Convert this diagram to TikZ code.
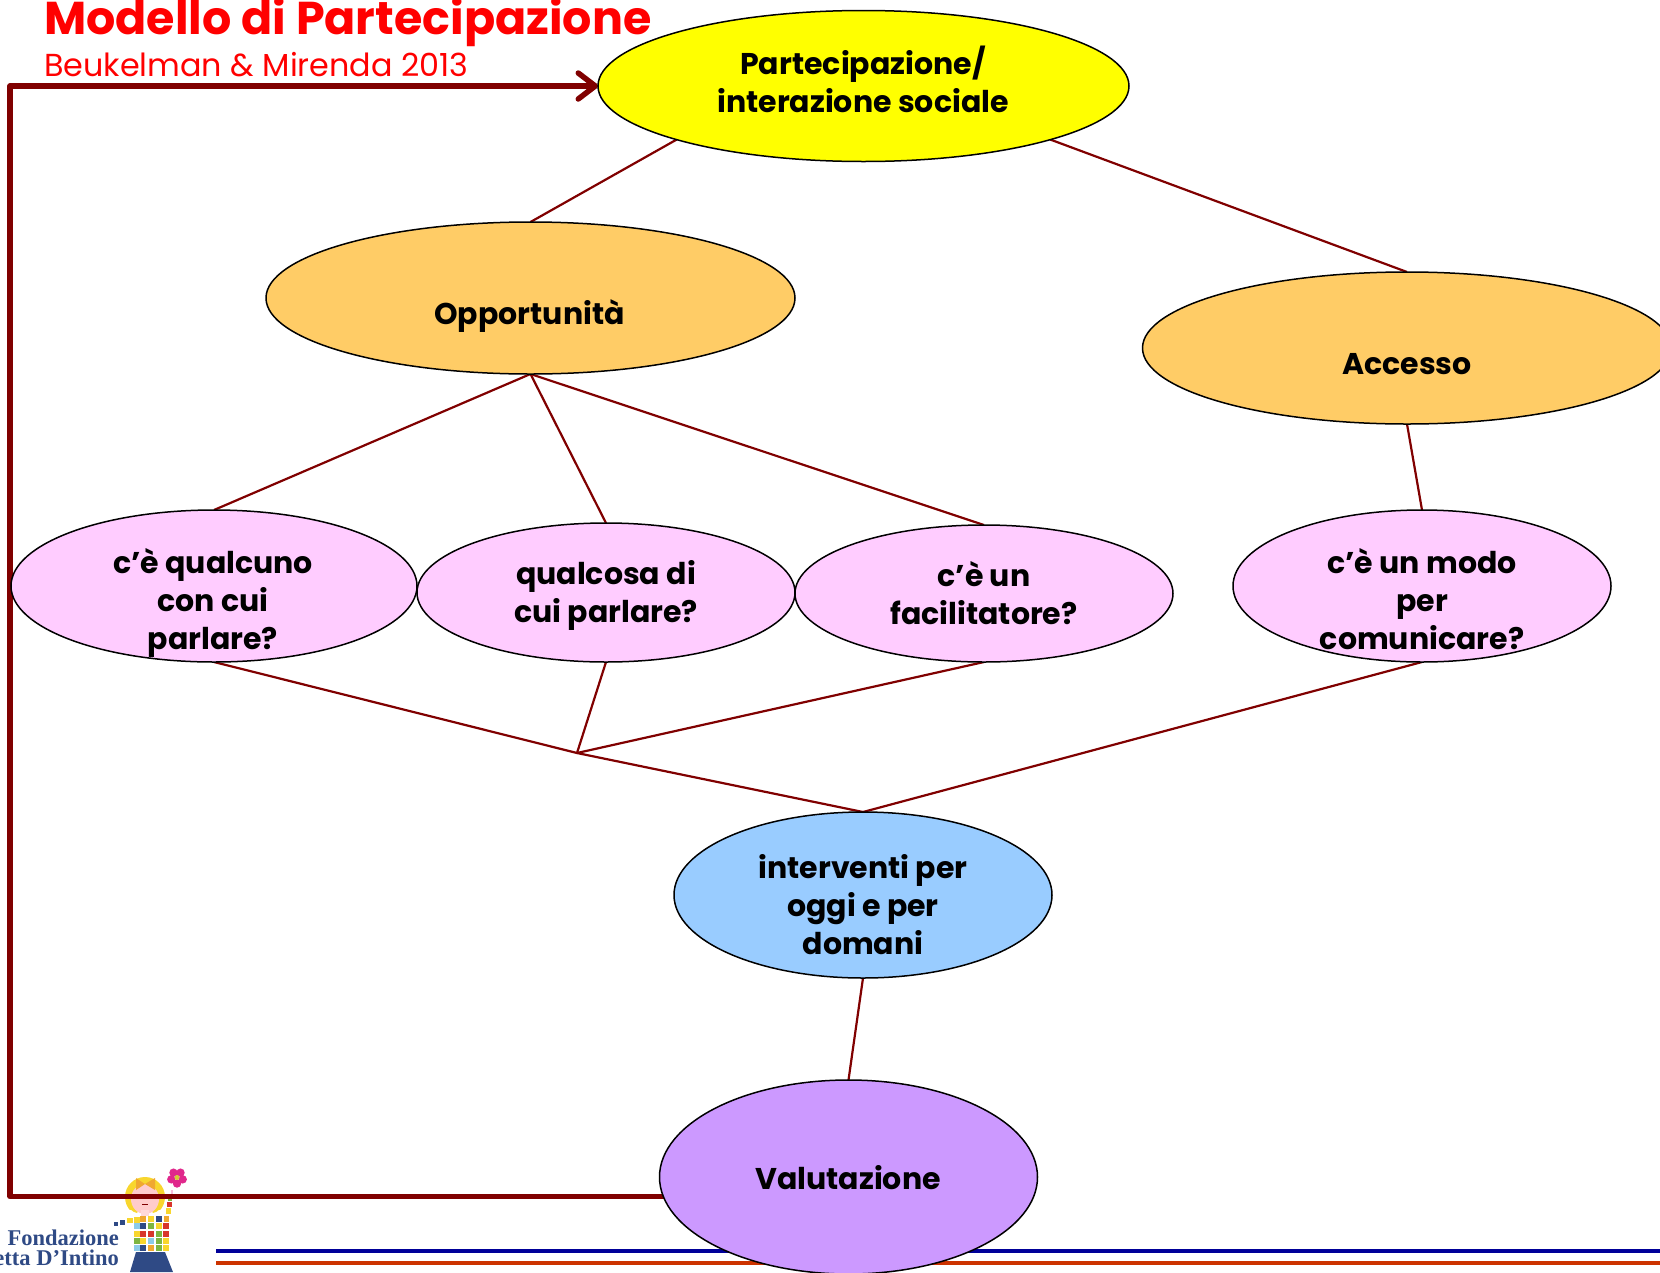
\documentclass[tikz,border=0pt]{standalone}
\usepackage{fontspec}
\setmainfont{Poppins}
\newfontfamily\logofont{Liberation Serif}
\usetikzlibrary{shapes.geometric,backgrounds,arrows.meta}
\definecolor{wire}{HTML}{800000}
\definecolor{cyel}{HTML}{FFFF00}
\definecolor{corg}{HTML}{FFCC66}
\definecolor{cpnk}{HTML}{FFCCFF}
\definecolor{cblu}{HTML}{99CCFF}
\definecolor{cvio}{HTML}{CC99FF}
\definecolor{logoblue}{HTML}{2F4A85}
\definecolor{logoyel}{HTML}{F8D62E}
\definecolor{logoorg}{HTML}{F0A830}
\definecolor{logored}{HTML}{D8352B}
\definecolor{logogrn}{HTML}{7DB540}
\definecolor{logosky}{HTML}{8CCBE8}
\definecolor{logopnk}{HTML}{E0288C}
\definecolor{ruleblue}{HTML}{000099}
\definecolor{ruleorg}{HTML}{CC3300}
\tikzset{
  oval/.style={draw=black,line width=1.5pt,ellipse,inner sep=0pt,outer sep=0pt},
  lbl/.style={align=center,font=\fontsize{30}{38}\selectfont\bfseries,inner sep=0pt},
  link/.style={draw=wire,line width=2.2pt},
  loopline/.style={draw=wire,line width=5.5pt,line join=round,line cap=round},
}
\begin{document}
\begin{tikzpicture}[x=1pt,y=-1pt]
\useasboundingbox (0,0) rectangle (1660,1272);
\clip (0,0) rectangle (1660,1272);
% ovals
\node[oval,fill=cyel,minimum width=531pt,minimum height=151pt] (top) at (863.5,86) {};
\node[oval,fill=corg,minimum width=529pt,minimum height=152pt] (opp) at (530.5,298) {};
\node[oval,fill=corg,minimum width=529pt,minimum height=152pt] (acc) at (1407,348) {};
\node[oval,fill=cpnk,minimum width=406pt,minimum height=152pt] (p1) at (214,586) {};
\node[oval,fill=cpnk,minimum width=378pt,minimum height=139pt] (p2) at (606,592.5) {};
\node[oval,fill=cpnk,minimum width=378pt,minimum height=137pt] (p3) at (984,593.5) {};
\node[oval,fill=cpnk,minimum width=378pt,minimum height=152pt] (p4) at (1422,586) {};
\node[oval,fill=cblu,minimum width=378pt,minimum height=166pt] (blu) at (863,895) {};
\node[oval,fill=cvio,minimum width=378pt,minimum height=194pt] (val) at (848.5,1177) {};
% labels
\node[lbl] (ttop) at (863,79) {Partecipazione/\\interazione sociale};
\node[lbl] (topp) at (529.5,316) {Opportunità};
\node[lbl] (tacc) at (1407,364) {Accesso};
\node[lbl] (tp1) at (213,603) {c’è qualcuno\\con cui\\parlare?};
\node[lbl] (tp2) at (606,595.5) {qualcosa di\\cui parlare?};
\node[lbl] (tp3) at (984,593.5) {c’è un\\facilitatore?};
\node[lbl] (tp4) at (1422,599) {c’è un modo\\per\\comunicare?};
\node[lbl] (tblu) at (863,905) {interventi per\\oggi e per\\domani};
\node[lbl] (tval) at (848,1178) {Valutazione};
% title
\node[anchor=base west,inner sep=0pt,text=red,font=\fontsize{46}{46}\selectfont\bfseries] (title) at (44,34) {Modello di Partecipazione};
\node[anchor=base west,inner sep=0pt,text=red,font=\fontsize{31.8}{32}\selectfont] (sub) at (44,76) {Beukelman \& Mirenda 2013};
% free junction
\coordinate (join) at (577,753);
\coordinate (loopstart) at (700,1196.5);
\coordinate (loopa) at (10,1196.5);
\coordinate (loopb) at (10,86);
\begin{scope}[on background layer]
  % footer rules
  \fill[ruleblue] (216,1248.5) rectangle (1660,1252.5);
  \fill[ruleorg] (216,1260.5) rectangle (1660,1265);
  % logo
  \node[anchor=base east,inner sep=0pt,text=logoblue,font=\logofont\fontsize{22.5}{22}\selectfont\bfseries] (logoa) at (119,1245) {Fondazione};
  \node[anchor=base east,inner sep=0pt,text=logoblue,font=\logofont\fontsize{22.5}{22}\selectfont\bfseries] (logob) at (119,1265) {etta D’Intino};
  \fill[logoyel] (145,1197) circle (20);
  \fill[white] (127,1210) rectangle (163,1225);
  \fill[logoyel] (126,1197) .. controls (127,1208) and (132,1212) .. (137,1213) -- (139,1209) -- (130,1195) -- cycle;
  \fill[logoyel] (164,1197) .. controls (163,1208) and (158,1212) .. (153,1213) -- (151,1209) -- (160,1195) -- cycle;
  \fill[red!20!white] (145,1199) ellipse (14 and 15);
  \fill[red!15!white] (141,1210) rectangle (149,1216);
  \draw[wire,line width=.8pt] (142,1204) -- (148,1204);
  \fill[logoorg] (145,1184) -- (136,1178) -- (136,1190) -- cycle;
  \fill[logoorg] (145,1184) -- (155,1178) -- (155,1190) -- cycle;
  \foreach \a in {18,90,162,234,306}{\fill[logopnk] (177,1177.5)+(\a:6) circle (4.2);}
  \fill[logoyel!70!logogrn] (177,1177.5) circle (2.5);
  \foreach \x/\y/\c in {
    134/1217/logoyel,140/1216/logoorg,148/1216/logoyel,156/1216/logoblue,
    134/1223/logosky,140/1223/logoblue,148/1223/logogrn,156/1223/logoyel,163/1223/logored,
    134/1231/logoyel,140/1231/logored,148/1231/logored,156/1231/logogrn,163/1231/logored,
    134/1238/logogrn,140/1238/logoyel,148/1238/logosky,156/1238/logogrn,163/1238/logoyel,
    134/1245/logosky,140/1245/logoblue,148/1245/logoorg,156/1245/logogrn,163/1245/logoyel}
    {\fill[\c] (\x,\y) rectangle +(6,6);}
  \fill[logoorg] (164,1216) rectangle +(5,6);
  \fill[logoyel] (166,1208) rectangle +(5,6);
  \fill[logored] (167,1202) rectangle +(5,5);
  \fill[logogrn] (168,1197) rectangle +(4,4);
  \fill[logopnk!30!white] (171,1190) rectangle +(2,6);
  \fill[logoyel] (127,1218) rectangle +(6,5);
  \fill[logoblue] (120,1220) rectangle +(5,5);
  \fill[logoblue] (114,1222) rectangle +(4,4);
  \fill[logoblue] (136,1252) -- (165,1252) -- (173,1272) -- (130,1272) -- cycle;
  % connectors
  \draw[link] (top.196) -- (opp.north);
  \draw[link] (top.344.4) -- (acc.north);
  \draw[link] (opp.south) -- (p1.north);
  \draw[link] (opp.south) -- (p2.north);
  \draw[link] (opp.south) -- (p3.north);
  \draw[link] (acc.south) -- (p4.north);
  \draw[link] (p1.south) -- (join);
  \draw[link] (p2.south) -- (join);
  \draw[link] (p3.south) -- (join);
  \draw[link] (join) -- (blu.north);
  \draw[link] (p4.south) -- (blu.north);
  \draw[link] (blu.south) -- (val.north);
  % feedback
  \draw[loopline,-{Straight Barb[length=17pt,width=26pt,line width=5.5pt,round]}] (loopstart) -- (loopa) -- (loopb) -- (top.west);
\end{scope}
\end{tikzpicture}
\end{document}
